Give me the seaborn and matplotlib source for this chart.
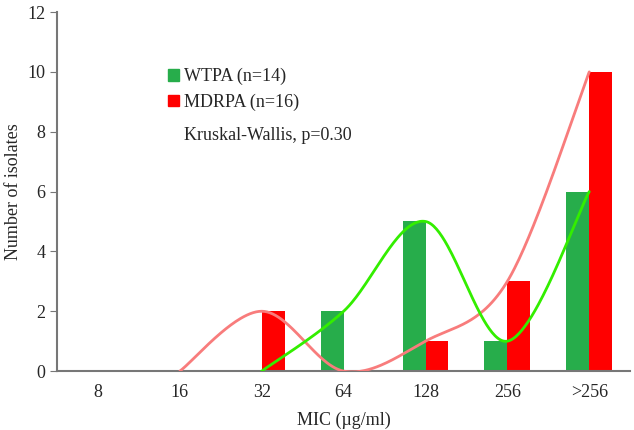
import numpy as np
import pandas as pd
import matplotlib
matplotlib.use("Agg")
import matplotlib.pyplot as plt
import seaborn as sns
from matplotlib.patches import Patch

mic_labels = ["8", "16", "32", "64", "128", "256", ">256"]
wtpa_counts = [0, 0, 0, 2, 5, 1, 6]
mdrpa_counts = [0, 0, 2, 0, 1, 3, 10]
# the smoothed lines start where each group first appears
wtpa_line_start = 2
mdrpa_line_start = 1

GREEN_BAR = "#27ad4b"
RED_BAR = "#ff0000"
GREEN_LINE = "#33ee00"
RED_LINE = "#f87c7c"


def catmull_rom(xs, ys, n=60):
    """Excel-style smoothed line through the points."""
    xs = np.asarray(xs, float)
    ys = np.asarray(ys, float)
    px = np.concatenate([[xs[0]], xs, [xs[-1]]])
    py = np.concatenate([[ys[0]], ys, [ys[-1]]])
    out_x, out_y = [], []
    t = np.linspace(0, 1, n)
    for i in range(1, len(px) - 2):
        p0, p1, p2, p3 = (np.array([px[j], py[j]]) for j in (i - 1, i, i + 1, i + 2))
        c1 = p1 + (p2 - p0) / 6
        c2 = p2 - (p3 - p1) / 6
        pts = ((1 - t) ** 3)[:, None] * p1 + (3 * (1 - t) ** 2 * t)[:, None] * c1 \
            + (3 * (1 - t) * t ** 2)[:, None] * c2 + (t ** 3)[:, None] * p2
        out_x.extend(pts[:, 0])
        out_y.extend(pts[:, 1])
    return np.array(out_x), np.array(out_y)


df = pd.DataFrame({
    "mic": mic_labels * 2,
    "group": ["WTPA (n=14)"] * len(mic_labels) + ["MDRPA (n=16)"] * len(mic_labels),
    "count": wtpa_counts + mdrpa_counts,
})

sns.set_style("white")
plt.rcParams["font.family"] = ["Liberation Serif", "DejaVu Serif"]

fig = plt.figure(figsize=(6.34, 4.30), dpi=100)
ax = fig.add_axes([0.09, 0.137, 0.904, 0.835])

sns.barplot(data=df, x="mic", y="count", hue="group", order=mic_labels,
            palette=[GREEN_BAR, RED_BAR], width=0.56, gap=0, saturation=1, ax=ax,
            legend=False, linewidth=0, edgecolor="none")

xs = np.arange(len(mic_labels))
gx, gy = catmull_rom(xs[wtpa_line_start:], wtpa_counts[wtpa_line_start:])
rx, ry = catmull_rom(xs[mdrpa_line_start:], mdrpa_counts[mdrpa_line_start:])
ax.plot(rx, ry, color=RED_LINE, lw=2.0, zorder=3)
ax.plot(gx, gy, color=GREEN_LINE, lw=2.0, zorder=4)

ax.set_xlim(-0.5, len(mic_labels) - 0.5)
ax.set_ylim(0, 12)
ax.set_yticks(range(0, 13, 2))
ax.set_xlabel("MIC (µg/ml)", fontsize=13, labelpad=8)
ax.set_ylabel("Number of isolates", fontsize=13)
ax.tick_params(axis="y", length=5, color="#777777", labelsize=13, left=True)
ax.tick_params(axis="x", length=0, labelsize=13, pad=9)
for side in ("top", "right"):
    ax.spines[side].set_visible(False)
for side in ("left", "bottom"):
    ax.spines[side].set_color("#777777")
    ax.spines[side].set_linewidth(1.5)

handles = [Patch(color=GREEN_BAR), Patch(color=RED_BAR)]
ax.legend(handles, ["WTPA (n=14)", "MDRPA (n=16)"], loc="upper left",
          bbox_to_anchor=(0.165, 0.889), frameon=False, fontsize=13,
          handlelength=0.6, handleheight=0.6, handletextpad=0.3, labelspacing=0.45)
ax.text(0.222, 0.645, "Kruskal-Wallis, p=0.30", transform=ax.transAxes, fontsize=13)

fig.savefig("out.png", dpi=100)
